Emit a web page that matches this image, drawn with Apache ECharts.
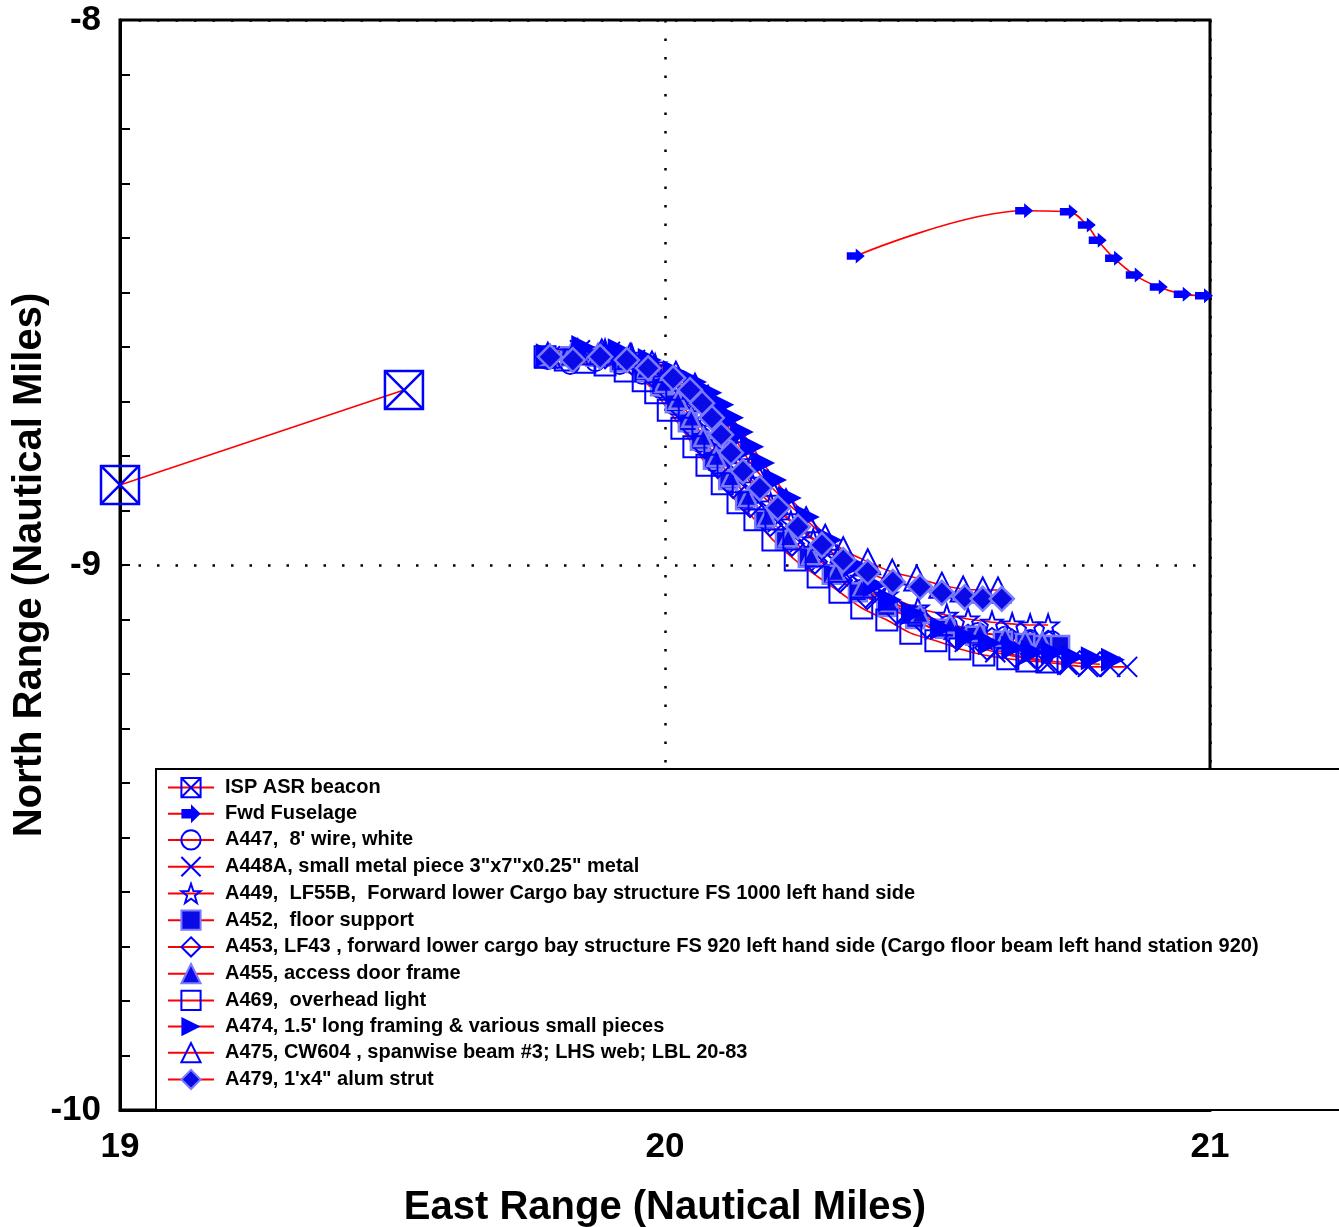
<!DOCTYPE html>
<html>
<head>
<meta charset="utf-8">
<script src="https://cdn.jsdelivr.net/npm/echarts@6/dist/echarts.min.js"></script>
<style>
  html, body { margin: 0; padding: 0; background: #fff; }
  #chart { width: 1339px; height: 1227px; }
</style>
</head>
<body>
<div id="chart"></div>
<script>
// Debris / beacon tracks: East range vs North range, nautical miles
const seriesNames = [
  'ISP ASR beacon',
  'Fwd Fuselage',
  "A447,  8' wire, white",
  'A448A, small metal piece 3"x7"x0.25" metal',
  'A449,  LF55B,  Forward lower Cargo bay structure FS 1000 left hand side',
  'A452,  floor support',
  'A453, LF43 , forward lower cargo bay structure FS 920 left hand side (Cargo floor beam left hand station 920)',
  'A455, access door frame',
  'A469,  overhead light',
  "A474, 1.5' long framing & various small pieces",
  'A475, CW604 , spanwise beam #3; LHS web; LBL 20-83',
  'A479, 1\'x4" alum strut'
];

const xTicks = [19, 20, 21];
const yTicks = [-8, -9, -10];

const ispAsrBeacon = [[19.000, -8.853], [19.521, -8.679]];

const fwdFuselage = [
  [20.350, -8.433], [20.659, -8.350], [20.741, -8.352], [20.774, -8.376], [20.794, -8.404],
  [20.824, -8.437], [20.862, -8.468], [20.906, -8.490], [20.950, -8.503], [20.989, -8.506]
];

const a447 = [
  [19.785, -8.624], [19.826, -8.633], [19.872, -8.628], [19.917, -8.633], [19.958, -8.651],
  [19.991, -8.677], [20.018, -8.708], [20.042, -8.741], [20.064, -8.776], [20.088, -8.811],
  [20.116, -8.846], [20.147, -8.881], [20.182, -8.916], [20.220, -8.950], [20.262, -8.983],
  [20.308, -9.015], [20.358, -9.044], [20.409, -9.070], [20.464, -9.092], [20.519, -9.110],
  [20.574, -9.123], [20.624, -9.130], [20.670, -9.136], [20.710, -9.138]
];

const a448A = [
  [19.789, -8.617], [19.844, -8.606], [19.899, -8.609], [19.945, -8.624], [19.982, -8.646],
  [20.013, -8.675], [20.039, -8.706], [20.061, -8.739], [20.083, -8.774], [20.108, -8.811],
  [20.138, -8.848], [20.171, -8.884], [20.207, -8.921], [20.248, -8.958], [20.288, -8.991],
  [20.336, -9.028], [20.385, -9.061], [20.440, -9.092], [20.495, -9.119], [20.550, -9.141],
  [20.606, -9.160], [20.661, -9.171], [20.697, -9.178], [20.738, -9.183], [20.776, -9.187],
  [20.817, -9.187], [20.848, -9.187]
];

const a449 = [
  [19.789, -8.617], [19.840, -8.606], [19.890, -8.606], [19.939, -8.615], [19.982, -8.633],
  [20.015, -8.657], [20.042, -8.684], [20.066, -8.716], [20.088, -8.749], [20.110, -8.783],
  [20.134, -8.818], [20.161, -8.853], [20.194, -8.888], [20.231, -8.921], [20.272, -8.954],
  [20.316, -8.985], [20.361, -9.024], [20.407, -9.055], [20.464, -9.079], [20.517, -9.092],
  [20.556, -9.099], [20.600, -9.105], [20.637, -9.108], [20.670, -9.110], [20.703, -9.110]
];

const a452 = [
  [19.780, -8.620], [19.826, -8.617], [19.872, -8.618], [19.917, -8.628], [19.958, -8.646],
  [19.991, -8.672], [20.018, -8.703], [20.042, -8.738], [20.064, -8.772], [20.088, -8.807],
  [20.116, -8.844], [20.147, -8.881], [20.182, -8.917], [20.220, -8.954], [20.262, -8.987],
  [20.306, -9.018], [20.354, -9.050], [20.406, -9.077], [20.459, -9.099], [20.514, -9.117],
  [20.569, -9.130], [20.620, -9.139], [20.661, -9.143], [20.694, -9.147], [20.725, -9.147]
];

const a453 = [
  [19.785, -8.618], [19.835, -8.615], [19.890, -8.617], [19.939, -8.628], [19.976, -8.650],
  [20.006, -8.679], [20.029, -8.712], [20.051, -8.747], [20.073, -8.782], [20.097, -8.818],
  [20.125, -8.855], [20.156, -8.890], [20.193, -8.925], [20.233, -8.961], [20.275, -8.994],
  [20.321, -9.028], [20.371, -9.059], [20.426, -9.086], [20.481, -9.112], [20.536, -9.134],
  [20.591, -9.152], [20.642, -9.165], [20.688, -9.174], [20.725, -9.178], [20.761, -9.180],
  [20.798, -9.182]
];

const a455 = [
  [19.785, -8.617], [19.829, -8.609], [19.877, -8.611], [19.925, -8.622], [19.965, -8.640],
  [19.998, -8.666], [20.024, -8.697], [20.048, -8.730], [20.070, -8.765], [20.094, -8.802],
  [20.121, -8.839], [20.152, -8.875], [20.187, -8.912], [20.226, -8.949], [20.268, -8.982],
  [20.314, -9.013], [20.361, -9.042], [20.413, -9.068], [20.468, -9.090], [20.523, -9.108],
  [20.578, -9.123], [20.624, -9.132], [20.661, -9.138], [20.692, -9.141]
];

const a469 = [
  [19.780, -8.618], [19.817, -8.624], [19.853, -8.628], [19.890, -8.633], [19.927, -8.644],
  [19.960, -8.662], [19.983, -8.684], [20.006, -8.716], [20.031, -8.749], [20.053, -8.783],
  [20.077, -8.817], [20.105, -8.851], [20.134, -8.886], [20.165, -8.917], [20.198, -8.954],
  [20.239, -8.991], [20.281, -9.022], [20.321, -9.050], [20.361, -9.079], [20.407, -9.101],
  [20.451, -9.125], [20.497, -9.139], [20.541, -9.154], [20.585, -9.165], [20.629, -9.172],
  [20.664, -9.176], [20.701, -9.178]
];

const a474 = [
  [19.785, -8.615], [19.850, -8.600], [19.917, -8.606], [19.972, -8.624], [20.018, -8.646],
  [20.055, -8.664], [20.083, -8.684], [20.105, -8.706], [20.123, -8.730], [20.141, -8.756],
  [20.160, -8.783], [20.180, -8.813], [20.202, -8.844], [20.229, -8.877], [20.262, -8.912],
  [20.303, -8.954], [20.349, -9.000], [20.385, -9.037], [20.413, -9.064], [20.455, -9.088],
  [20.508, -9.116], [20.554, -9.132], [20.596, -9.143], [20.639, -9.152], [20.675, -9.160],
  [20.712, -9.161], [20.749, -9.169], [20.785, -9.171], [20.822, -9.174]
];

const a475 = [
  [19.785, -8.615], [19.835, -8.609], [19.884, -8.609], [19.936, -8.617], [19.976, -8.631],
  [20.020, -8.650], [20.055, -8.672], [20.079, -8.694], [20.101, -8.721], [20.119, -8.752],
  [20.138, -8.783], [20.160, -8.817], [20.189, -8.850], [20.222, -8.884], [20.259, -8.917],
  [20.294, -8.949], [20.327, -8.972], [20.372, -8.994], [20.417, -9.013], [20.462, -9.024],
  [20.508, -9.037], [20.547, -9.044], [20.583, -9.046], [20.611, -9.046]
];

const a479 = [
  [19.789, -8.618], [19.831, -8.624], [19.881, -8.618], [19.930, -8.624], [19.969, -8.639],
  [20.015, -8.657], [20.046, -8.679], [20.068, -8.703], [20.086, -8.730], [20.103, -8.761],
  [20.121, -8.794], [20.143, -8.828], [20.174, -8.859], [20.207, -8.895], [20.244, -8.930],
  [20.288, -8.963], [20.327, -8.991], [20.372, -9.013], [20.418, -9.031], [20.468, -9.040],
  [20.508, -9.051], [20.550, -9.059], [20.583, -9.062], [20.618, -9.062]
];

const FONT = "'Liberation Sans', Arial, Helvetica, sans-serif";
const BLUE = '#0000ff';
const RED = '#ff0000';
const CLEAR = 'rgba(0,0,0,0)';

// marker shapes
const SYM_BOX_X = 'path://M0,0 L20,0 L20,20 L0,20 Z M0,0 L20,20 M20,0 L0,20';
const SYM_ARROW = 'path://M0,3 L7,3 L7,0 L14,6 L7,12 L7,9 L0,9 Z';
const SYM_CROSS = 'path://M0,0 L20,20 M20,0 L0,20';
const SYM_STAR = 'path://M50,0 L61.8,33.8 L97.6,34.5 L69,56.2 L79.4,90.5 L50,70 L20.6,90.5 L31,56.2 L2.4,34.5 L38.2,33.8 Z';
const SYM_RIGHT_TRI = 'path://M0,0 L20,10 L0,20 Z';

function track(name, data, symbol, size, itemStyle, extra) {
  return Object.assign({
    name: name,
    type: 'line',
    data: data,
    smooth: 0.35,
    symbol: symbol,
    symbolSize: size,
    showAllSymbol: true,
    clip: false,
    lineStyle: { color: RED, width: 1.6 },
    itemStyle: itemStyle,
    emphasis: { disabled: true },
    z: 3
  }, extra || {});
}

const hollow = { color: CLEAR, borderColor: BLUE, borderWidth: 2 };
const solid = { color: BLUE, borderColor: BLUE, borderWidth: 0 };
const bevel = { color: '#0a0ae6', borderColor: '#7a7aff', borderWidth: 2.5 };

const series = [
  track(seriesNames[0], ispAsrBeacon, SYM_BOX_X, 38, { color: CLEAR, borderColor: BLUE, borderWidth: 2.5 }, { smooth: false }),
  track(seriesNames[1], fwdFuselage, SYM_ARROW, [18, 15], solid),
  track(seriesNames[2], a447, 'circle', 18, hollow),
  track(seriesNames[3], a448A, SYM_CROSS, 20, hollow),
  track(seriesNames[4], a449, SYM_STAR, 21, hollow),
  track(seriesNames[5], a452, 'rect', 18, bevel),
  track(seriesNames[6], a453, 'diamond', 24, hollow),
  track(seriesNames[7], a455, 'triangle', 18, bevel),
  track(seriesNames[8], a469, 'rect', 21, hollow),
  track(seriesNames[9], a474, SYM_RIGHT_TRI, 24, solid),
  track(seriesNames[10], a475, 'triangle', 25, hollow),
  track(seriesNames[11], a479, 'diamond', 24, bevel)
];

const chart = echarts.init(document.getElementById('chart'), null, { renderer: 'canvas' });

chart.setOption({
  animation: false,
  backgroundColor: '#ffffff',
  textStyle: { fontFamily: FONT },
  grid: {
    left: 120, right: 129, top: 20, bottom: 117,
    outerBoundsMode: 'none',
    containLabel: false,
    show: true, borderColor: '#000', borderWidth: 3, backgroundColor: 'transparent'
  },
  xAxis: {
    type: 'value',
    min: xTicks[0], max: xTicks[xTicks.length - 1], interval: 1,
    name: 'East Range (Nautical Miles)',
    nameLocation: 'middle',
    nameGap: 78,
    nameTextStyle: { fontFamily: FONT, fontWeight: 'bold', fontSize: 40, color: '#000' },
    axisLine: { show: true, onZero: false, lineStyle: { color: '#000', width: 3 } },
    axisTick: { show: false },
    axisLabel: {
      fontFamily: FONT, fontWeight: 'bold', fontSize: 35, color: '#000', margin: 20,
      formatter: v => xTicks.indexOf(v) >= 0 ? String(v) : ''
    },
    splitLine: { show: true, lineStyle: { color: '#000', width: 2.5, type: [2.5, 16] } }
  },
  yAxis: {
    type: 'value',
    min: yTicks[yTicks.length - 1], max: yTicks[0], interval: 1,
    name: 'North Range (Nautical Miles)',
    nameLocation: 'middle',
    nameGap: 70,
    nameMoveOverlap: false,
    nameRotate: 90,
    nameTextStyle: { fontFamily: FONT, fontWeight: 'bold', fontSize: 40, color: '#000' },
    axisLine: { show: true, onZero: false, lineStyle: { color: '#000', width: 3 } },
    axisTick: { show: true, inside: true, length: 10, lineStyle: { color: '#000', width: 2 } },
    minorTick: { show: true, splitNumber: 10, length: 10, lineStyle: { color: '#000', width: 2 } },
    axisLabel: {
      fontFamily: FONT, fontWeight: 'bold', fontSize: 35, color: '#000', margin: 19,
      formatter: v => yTicks.indexOf(v) >= 0 ? String(v) : ''
    },
    splitLine: { show: true, lineStyle: { color: '#000', width: 2.5, type: [2.5, 16] } }
  },
  graphic: [{
    type: 'rect',
    z: 50,
    shape: { x: 156, y: 769, width: 1200, height: 341 },
    style: { fill: '#ffffff', stroke: '#000000', lineWidth: 2 },
    silent: true
  }],
  legend: {
    show: true,
    z: 100,
    orient: 'vertical',
    left: 167,
    top: 777,
    padding: 0,
    itemWidth: 46,
    itemHeight: 24,
    itemGap: 5.55,
    selectedMode: false,
    data: seriesNames,
    textStyle: { fontFamily: FONT, fontWeight: 'bold', fontSize: 20, color: '#000', padding: [0, 0, 0, 6] }
  },
  series: series
});
</script>
</body>
</html>
